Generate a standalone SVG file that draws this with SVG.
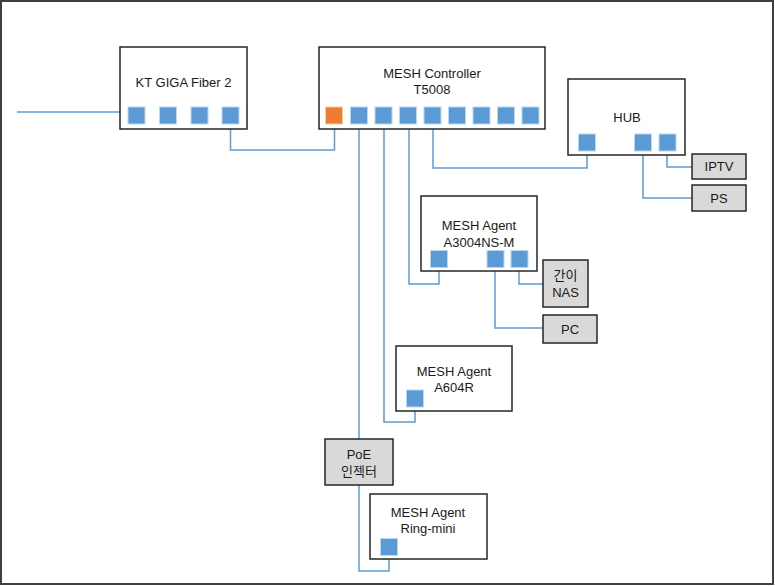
<svg xmlns="http://www.w3.org/2000/svg" width="775" height="586" viewBox="0 0 775 586">
<style>
.box{fill:#fff;stroke:#262626;stroke-width:1.5}
.dev{fill:#d9d9d9;stroke:#262626;stroke-width:1.5}
.port{fill:#5b9bd5;stroke:#bdd7ee;stroke-width:1}
.up{fill:#ed7d31;stroke:#f8cbad;stroke-width:1}
.t{font-family:"Liberation Sans","Noto Sans CJK KR",sans-serif;font-size:13px;fill:#1a1a1a;text-anchor:middle}
#connectors path{fill:none;stroke:#5b9bd5;stroke-width:1.5}
</style>
<rect x="1" y="1" width="772" height="583" fill="#fff" stroke="#404040" stroke-width="2"/>
<g id="connectors">
<path d="M17,112 H120"/>
<path d="M230.5,124 V150 H334.5 V124"/>
<path d="M359,124 V439"/>
<path d="M359,485 V571 H389 V556"/>
<path d="M384,124 V422 H415 V407"/>
<path d="M409,124 V284 H439 V267"/>
<path d="M433,124 V168 H587 V151"/>
<path d="M667,151 V167 H692"/>
<path d="M643,151 V198 H692"/>
<path d="M519,267 V284 H543"/>
<path d="M495,267 V328 H543"/>
</g>
<g id="kt">
<rect class="box" x="120" y="47" width="127" height="82"/>
<text class="t" x="183.5" y="87">KT GIGA Fiber 2</text>
<rect class="port" x="128" y="107" width="17" height="17"/>
<rect class="port" x="159.5" y="107" width="17" height="17"/>
<rect class="port" x="191" y="107" width="17" height="17"/>
<rect class="port" x="222" y="107" width="17" height="17"/>
</g>
<g id="controller">
<rect class="box" x="319" y="47" width="226" height="82"/>
<text class="t" x="432" y="78">MESH Controller</text>
<text class="t" x="432" y="94">T5008</text>
<rect class="up" x="325.5" y="107" width="17" height="17"/>
<rect class="port" x="350.5" y="107" width="17" height="17"/>
<rect class="port" x="375" y="107" width="17" height="17"/>
<rect class="port" x="399.5" y="107" width="17" height="17"/>
<rect class="port" x="424" y="107" width="17" height="17"/>
<rect class="port" x="448.5" y="107" width="17" height="17"/>
<rect class="port" x="473" y="107" width="17" height="17"/>
<rect class="port" x="497.5" y="107" width="17" height="17"/>
<rect class="port" x="522" y="107" width="17" height="17"/>
</g>
<g id="hub">
<rect class="box" x="568" y="79" width="117" height="76"/>
<text class="t" x="627" y="122">HUB</text>
<rect class="port" x="578.5" y="134" width="17" height="17"/>
<rect class="port" x="634.5" y="134" width="17" height="17"/>
<rect class="port" x="659" y="134" width="17" height="17"/>
</g>
<g id="iptv">
<rect class="dev" x="692" y="154" width="54" height="25"/>
<text class="t" x="719" y="171">IPTV</text>
</g>
<g id="ps">
<rect class="dev" x="692" y="185" width="54" height="26"/>
<text class="t" x="719" y="203">PS</text>
</g>
<g id="a3004">
<rect class="box" x="421" y="196" width="116" height="75"/>
<text class="t" x="479" y="230">MESH Agent</text>
<text class="t" x="479" y="247">A3004NS-M</text>
<rect class="port" x="430.5" y="250.5" width="17" height="17"/>
<rect class="port" x="487" y="250.5" width="17" height="17"/>
<rect class="port" x="511" y="250.5" width="17" height="17"/>
</g>
<g id="nas">
<rect class="dev" x="543" y="260" width="45" height="47"/>
<text class="t" x="565.5" y="280">간이</text>
<text class="t" x="565.5" y="297">NAS</text>
</g>
<g id="pc">
<rect class="dev" x="543" y="315" width="54" height="28"/>
<text class="t" x="570" y="334">PC</text>
</g>
<g id="a604r">
<rect class="box" x="396" y="346" width="116" height="65"/>
<text class="t" x="454" y="376">MESH Agent</text>
<text class="t" x="454" y="392">A604R</text>
<rect class="port" x="406.5" y="390" width="17" height="17"/>
</g>
<g id="poe">
<rect class="dev" x="325" y="439" width="68" height="46"/>
<text class="t" x="359" y="459">PoE</text>
<text class="t" x="359" y="476">인젝터</text>
</g>
<g id="ringmini">
<rect class="box" x="370" y="494" width="117" height="65"/>
<text class="t" x="428" y="517">MESH Agent</text>
<text class="t" x="428" y="533">Ring-mini</text>
<rect class="port" x="380.5" y="538.5" width="17" height="17"/>
</g>
</svg>
